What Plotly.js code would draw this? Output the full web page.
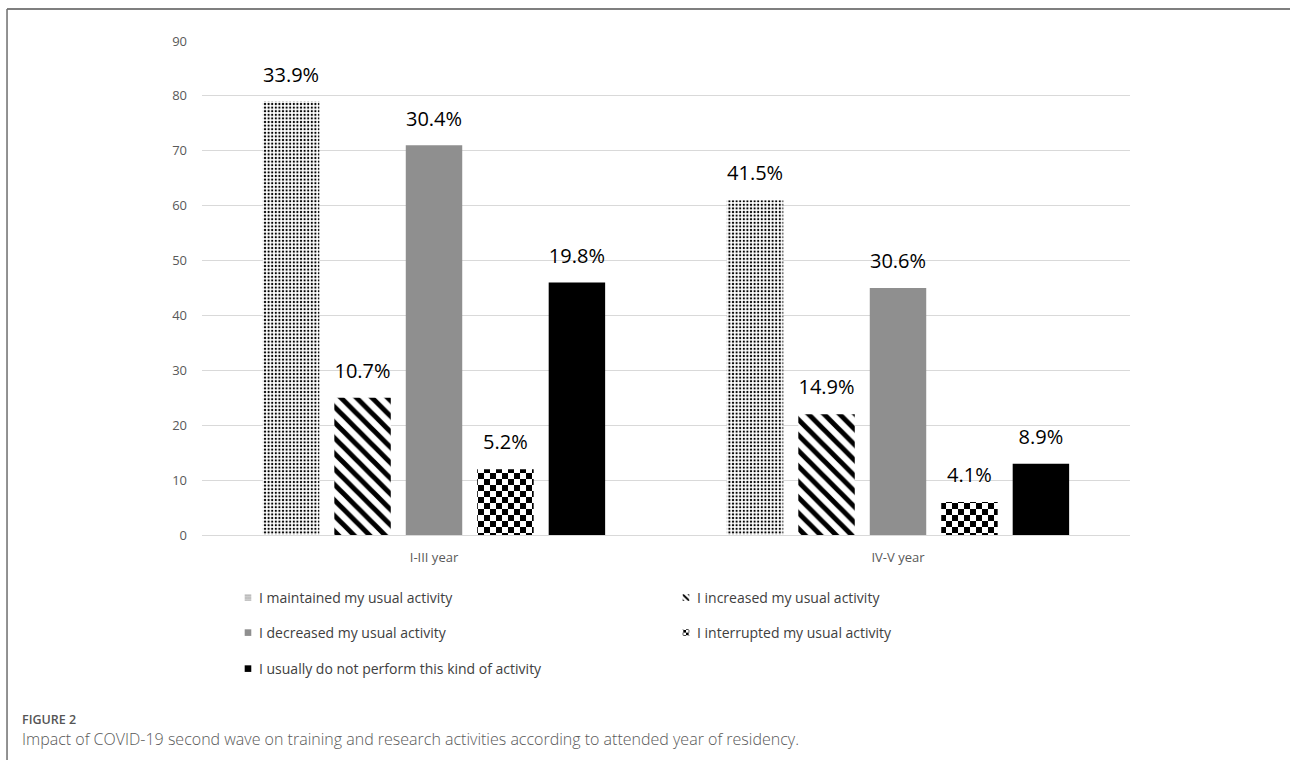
<!DOCTYPE html>
<html>
<head>
<meta charset="utf-8">
<script src="https://cdn.plot.ly/plotly-3.0.1.min.js"></script>
<style>
  html, body { margin: 0; padding: 0; background: #ffffff; }
  #chart { width: 1290px; height: 760px; }
</style>
</head>
<body>
<div id="chart"></div>
<script>
// ---- data ----
const categories = ['I-III year', 'IV-V year'];
const seriesNames = [
  'I maintained my usual activity',
  'I increased my usual activity',
  'I decreased my usual activity',
  'I interrupted my usual activity',
  'I usually do not perform this kind of activity'
];
const maintained  = [79, 61];
const increased   = [25, 22];
const decreased   = [71, 45];
const interrupted = [12, 6];
const notPerform  = [46, 13];

const maintainedPct  = ['33.9%', '41.5%'];
const increasedPct   = ['10.7%', '14.9%'];
const decreasedPct   = ['30.4%', '30.6%'];
const interruptedPct = ['5.2%', '4.1%'];
const notPerformPct  = ['19.8%', '8.9%'];

const yTicks = [0, 10, 20, 30, 40, 50, 60, 70, 80, 90];

// ---- styles ----
const values = [maintained, increased, decreased, interrupted, notPerform];
const pcts = [maintainedPct, increasedPct, decreasedPct, interruptedPct, notPerformPct];
const legendIds = ['legend', 'legend', 'legend2', 'legend2', 'legend3'];
const markers = [
  {color: '#ffffff', line: {width: 0}, pattern: {shape: '.', bgcolor: '#ffffff', fgcolor: '#000000', size: 3.6, solidity: 0.3, fillmode: 'replace'}},
  {color: '#ffffff', line: {width: 0}, pattern: {shape: '\\', bgcolor: '#ffffff', fgcolor: '#000000', size: 11, solidity: 0.45, fillmode: 'replace'}},
  {color: '#8f8f8f', line: {width: 0}},
  {color: '#ffffff', line: {width: 0}, pattern: {shape: '+', bgcolor: '#ffffff', fgcolor: '#010101', size: 12, solidity: 0.5, fillmode: 'replace'}},
  {color: '#000000', line: {width: 0}}
];

const FONT = '"Open Sans", "Noto Sans", "DejaVu Sans", sans-serif';

const traces = [];
for (let i = 0; i < 5; i++) {
  traces.push({
    type: 'bar',
    name: seriesNames[i],
    x: categories,
    y: values[i],
    offsetgroup: 'g' + i,
    marker: markers[i],
    legend: legendIds[i],
    hoverinfo: 'x+y+name'
  });
}
for (let i = 0; i < 5; i++) {
  traces.push({
    type: 'scatter',
    mode: 'markers+text',
    x: categories,
    y: values[i],
    offsetgroup: 'g' + i,
    text: pcts[i],
    textposition: 'top center',
    textfont: {family: FONT, size: 20, color: '#000000', weight: 500},
    marker: {size: 22, opacity: 0, color: '#000000'},
    showlegend: false,
    hoverinfo: 'skip',
    cliponaxis: false
  });
}

const legendCommon = {
  orientation: 'h',
  xanchor: 'left',
  yanchor: 'middle',
  x: 0.0183,
  entrywidth: 393,
  entrywidthmode: 'pixels',
  bgcolor: 'rgba(0,0,0,0)',
  font: {family: FONT, size: 14, color: '#404040'},
  traceorder: 'normal'
};

const layout = {
  width: 1290,
  height: 760,
  paper_bgcolor: '#ffffff',
  plot_bgcolor: '#ffffff',
  margin: {l: 202, r: 160, t: 41, b: 225},
  barmode: 'group',
  bargap: 0.23,
  bargroupgap: 0.21,
  scattermode: 'group',
  showlegend: true,
  xaxis: {
    type: 'category',
    showline: true,
    linecolor: '#d9d9d9',
    linewidth: 1,
    showgrid: false,
    ticks: '',
    ticklabelstandoff: 10,
    tickfont: {family: FONT, size: 13, color: '#595959'}
  },
  yaxis: {
    range: [0, 90],
    tickvals: yTicks,
    ticktext: yTicks.map(String),
    showgrid: true,
    gridcolor: '#d9d9d9',
    gridwidth: 1,
    zeroline: false,
    showline: false,
    ticks: '',
    ticklabelstandoff: 14,
    tickfont: {family: FONT, size: 13, color: '#595959'}
  },
  legend:  Object.assign({}, legendCommon, {y: -0.1275}),
  legend2: Object.assign({}, legendCommon, {y: -0.1984}),
  legend3: Object.assign({}, legendCommon, {y: -0.2713}),
  shapes: [
    {type: 'line', xref: 'paper', yref: 'paper', x0: -0.2101, x1: 1.18, y0: 1.0648, y1: 1.0648,
     line: {color: '#7f7f7f', width: 2}},
    {type: 'line', xref: 'paper', yref: 'paper', x0: -0.2101, x1: -0.2101, y0: 1.0648, y1: -0.47,
     line: {color: '#6e6e6e', width: 1.5}}
  ],
  annotations: [
    {xref: 'paper', yref: 'paper', x: -0.196, y: -0.3725, xanchor: 'left', yanchor: 'middle',
     showarrow: false, text: 'FIGURE 2',
     font: {family: FONT, size: 12.5, color: '#555555', weight: 600}},
    {xref: 'paper', yref: 'paper', x: -0.196, y: -0.413, xanchor: 'left', yanchor: 'middle',
     showarrow: false,
     text: 'Impact of COVID-19 second wave on training and research activities according to attended year of residency.',
     font: {family: FONT, size: 16, color: '#595959', weight: 300}}
  ]
};

function restyleDom(gd) {
  // checkerboard pattern for the "interrupted" series
  const NS = 'http://www.w3.org/2000/svg';
  gd.querySelectorAll('pattern').forEach(function (p) {
    const html = p.innerHTML;
    if (html.indexOf('rgb(1, 1, 1)') !== -1 || html.indexOf('#010101') !== -1) {
      const s = 12, h = 6;
      p.setAttribute('width', s);
      p.setAttribute('height', s);
      p.setAttribute('patternUnits', 'userSpaceOnUse');
      while (p.firstChild) p.removeChild(p.firstChild);
      const mk = function (x, y, w, hh, fill) {
        const r = document.createElementNS(NS, 'rect');
        r.setAttribute('x', x); r.setAttribute('y', y);
        r.setAttribute('width', w); r.setAttribute('height', hh);
        r.setAttribute('fill', fill);
        p.appendChild(r);
      };
      mk(0, 0, s, s, '#ffffff');
      mk(0, 0, h, h, '#000000');
      mk(h, h, h, h, '#000000');
    }
  });
  // smaller legend symbols, closer to their text
  gd.querySelectorAll('.legendpoints path').forEach(function (p) {
    p.setAttribute('transform', 'translate(29,0) scale(0.55)');
  });
}

Plotly.newPlot('chart', traces, layout, {displayModeBar: false, responsive: false})
  .then(restyleDom);
</script>
</body>
</html>
